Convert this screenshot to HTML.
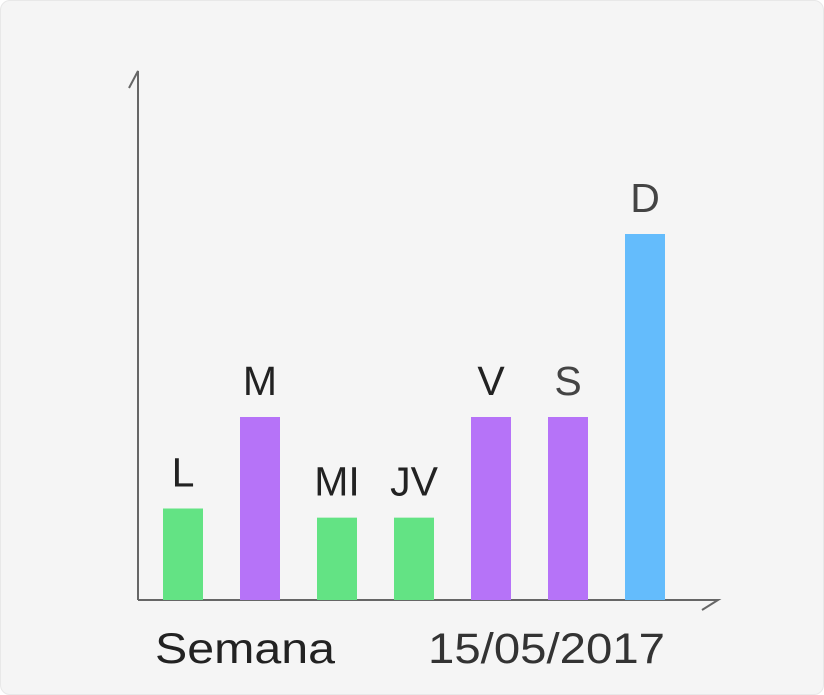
<!DOCTYPE html>
<html><head><meta charset="utf-8"><style>
body{margin:0;background:#fff;}
#card{position:absolute;left:0;top:0;width:822px;height:693px;background:#f5f5f5;border:1px solid #e8e8e8;border-radius:10px;}
svg{position:absolute;left:0;top:0;}
text{font-family:"Liberation Sans",sans-serif;}
</style></head><body>
<div id="card"></div>
<svg id="chart" width="824" height="695">
  <g stroke="#666" stroke-width="2" fill="none">
    <path d="M138,600 L138,71 L129,88"/>
    <path d="M138,600 L718,600 L702,610"/>
  </g>
  <text x="155" y="663" font-size="43" fill="#222" textLength="180" lengthAdjust="spacingAndGlyphs">Semana</text>
  <text x="428" y="663" font-size="43" fill="#333" textLength="237" lengthAdjust="spacingAndGlyphs">15/05/2017</text>
</svg>
<script>
const categories=["L","M","MI","JV","V","S","D"];
const values=[5,10,4.5,4.5,10,10,20];
const colors=["#63e384","#b673f8","#63e384","#63e384","#b673f8","#b673f8","#64bcfc"];
const labelColors=["#222","#222","#222","#222","#222","#444","#444"];
const svg=document.getElementById('chart');
const NS="http://www.w3.org/2000/svg";
const baseY=600, k=18.3, x0=163, step=77, bw=40;
const xPos=i=>x0+i*step;
const yPos=v=>baseY-v*k;
categories.forEach((c,i)=>{
  const r=document.createElementNS(NS,'rect');
  r.setAttribute('x',xPos(i));r.setAttribute('y',yPos(values[i]));
  r.setAttribute('width',bw);r.setAttribute('height',baseY-yPos(values[i]));
  r.setAttribute('fill',colors[i]);
  
  
  svg.appendChild(r);
  const t=document.createElementNS(NS,'text');
  t.setAttribute('x',xPos(i)+bw/2);t.setAttribute('y',yPos(values[i])-22);
  t.setAttribute('text-anchor','middle');t.setAttribute('font-size','41');
  t.setAttribute('fill',labelColors[i]);
  t.textContent=c;
  
  
  svg.appendChild(t);
});
</script>
</body></html>
